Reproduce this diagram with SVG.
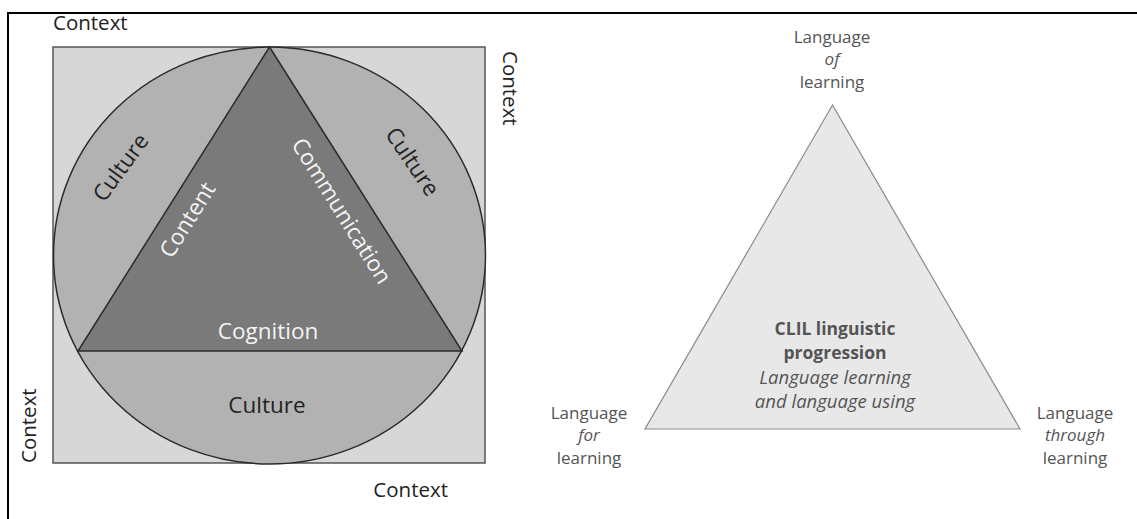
<svg xmlns="http://www.w3.org/2000/svg" width="1137" height="519" viewBox="0 0 1137 519">
<style>
.t{font-family:"Open Sans","Noto Sans","Liberation Sans",sans-serif;}
.ctx{font-size:20.5px;fill:#222;}
.cul{font-size:22.5px;fill:#222;}
.wh{font-size:22.5px;fill:#f4f4f4;}
.lbl{font-size:17.5px;fill:#555;text-anchor:middle;}
.cap{font-size:17px;fill:#555;text-anchor:middle;}
.it{font-style:italic;font-size:18.5px;}
.ci{font-style:italic;}
.b{font-weight:bold;}
.edge{stroke:#2a2a2a;stroke-width:1.5;}
</style>
<rect width="1137" height="519" fill="#ffffff"/>
<g id="frame" fill="none" stroke="#000" stroke-width="2">
<line x1="7" y1="13" x2="1137" y2="13"/>
<line x1="8" y1="12" x2="8" y2="519"/>
</g>
<g id="connectors"></g>
<g id="square">
<rect x="53" y="47" width="432" height="416" fill="#d7d7d7" stroke="#555" stroke-width="1.5"/>
</g>
<g id="circle">
<ellipse cx="269.5" cy="255.5" rx="216" ry="208.5" fill="#b2b2b2" class="edge"/>
</g>
<g id="triangle4c">
<polygon points="269.5,47 78,351 462,351" fill="#7a7a7a" class="edge"/>
</g>
<g id="labels4c" class="t">
<text class="ctx" x="53" y="30">Context</text>
<text class="ctx" transform="translate(503,51) rotate(90)">Context</text>
<text class="ctx" transform="translate(36,463) rotate(-90)">Context</text>
<text class="ctx" x="448" y="497" text-anchor="end">Context</text>
<text class="cul" text-anchor="middle" transform="translate(127,172) rotate(-54)">Culture</text>
<text class="cul" text-anchor="middle" transform="translate(406,166) rotate(56)">Culture</text>
<text class="wh" text-anchor="middle" transform="translate(194,224) rotate(-58)">Content</text>
<text class="wh" text-anchor="middle" transform="translate(335,215) rotate(58)">Communication</text>
<text class="wh" x="268" y="339" text-anchor="middle">Cognition</text>
<text class="cul" x="267" y="413" text-anchor="middle">Culture</text>
</g>
<g id="triangleCLIL">
<polygon points="832.5,105 645,429 1020,429" fill="#e8e8e8" stroke="#8a8a8a" stroke-width="1.2"/>
</g>
<g id="center" class="t">
<text class="lbl b" x="835" y="335">CLIL linguistic</text>
<text class="lbl b" x="835" y="359">progression</text>
<text class="lbl it" x="835" y="384">Language learning</text>
<text class="lbl it" x="835" y="408">and language using</text>
</g>
<g id="top" class="t">
<text class="cap" x="832" y="43">Language</text>
<text class="cap ci" x="832" y="65">of</text>
<text class="cap" x="832" y="88">learning</text>
</g>
<g id="left" class="t">
<text class="cap" x="589" y="419">Language</text>
<text class="cap ci" x="589" y="441">for</text>
<text class="cap" x="589" y="464">learning</text>
</g>
<g id="right" class="t">
<text class="cap" x="1075" y="419">Language</text>
<text class="cap ci" x="1075" y="441">through</text>
<text class="cap" x="1075" y="464">learning</text>
</g>
</svg>
